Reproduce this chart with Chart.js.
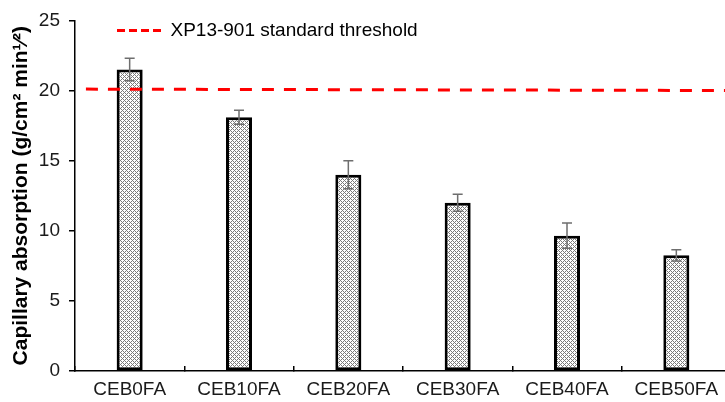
<!DOCTYPE html>
<html>
<head>
<meta charset="utf-8">
<script src="https://cdn.jsdelivr.net/npm/chart.js@4.4.1/dist/chart.umd.min.js"></script>
<style>
  html, body { margin: 0; padding: 0; background: #fff; overflow: hidden; }
  #wrap { width: 725px; height: 402px; overflow: hidden; }
</style>
</head>
<body>
<div id="wrap"><canvas id="absorptionChart" width="740" height="402"></canvas></div>
<script>
// capillary absorption per mix

const categories = ['CEB0FA', 'CEB10FA', 'CEB20FA', 'CEB30FA', 'CEB40FA', 'CEB50FA'];
const absorption = [21.5, 18.1, 14.0, 12.0, 9.65, 8.25];
const absorptionErr = [0.8, 0.5, 1.0, 0.6, 0.9, 0.4];

// threshold line runs across the whole plot (x in category units, 0..6)
const thresholdLabel = 'XP13-901 standard threshold';
const thresholdX = [0.1, 6.0];
const thresholdY = [20.1, 20.0];

const yTicks = [0, 5, 10, 15, 20, 25];

const FONT = '"Liberation Sans", Arial, sans-serif';

// Excel-like dotted diamond fill for the bars
function makeHatch() {
    const mask = [
        [1, 0, 0, 0],
        [0, 1, 0, 1],
        [0, 0, 1, 0],
        [0, 1, 0, 1],
    ];
    const tile = document.createElement('canvas');
    tile.width = 4;
    tile.height = 4;
    const tctx = tile.getContext('2d');
    tctx.fillStyle = '#ffffff';
    tctx.fillRect(0, 0, 4, 4);
    tctx.fillStyle = '#7a7a7a';
    mask.forEach((row, r) => row.forEach((on, c) => {
        if (on) tctx.fillRect(c, r, 1, 1);
    }));
    return document.getElementById('absorptionChart').getContext('2d').createPattern(tile, 'repeat');
}

// draws +/- error bars from the y scale
const errorBars = {
    id: 'errorBars',
    afterDatasetDraw(chart, args) {
        if (args.meta.type !== 'bar') return;
        const { ctx } = chart;
        const y = chart.scales.y;
        ctx.save();
        ctx.strokeStyle = '#6e6e6e';
        ctx.lineWidth = 1.5;
        args.meta.data.forEach((bar, i) => {
            const top = y.getPixelForValue(absorption[i] + absorptionErr[i]);
            const bottom = y.getPixelForValue(absorption[i] - absorptionErr[i]);
            const x = bar.x;
            ctx.beginPath();
            ctx.moveTo(x, top);
            ctx.lineTo(x, bottom);
            ctx.moveTo(x - 5, top);
            ctx.lineTo(x + 5, top);
            ctx.moveTo(x - 5, bottom);
            ctx.lineTo(x + 5, bottom);
            ctx.stroke();
        });
        ctx.restore();
    }
};

// legend sits inside the plot, nudged right and down
const legendOffset = {
    id: 'legendOffset',
    afterLayout(chart) {
        const lg = chart.legend;
        if (!lg) return;
        lg.left += 42;
        lg.right += 42;
        lg.top += 21;
        lg.bottom += 21;
    }
};

const ctx = document.getElementById('absorptionChart').getContext('2d');

new Chart(ctx, {
    type: 'bar',
    data: {
        labels: categories,
        datasets: [
            {
                label: 'Capillary absorption',
                data: absorption,
                backgroundColor: makeHatch(),
                borderColor: '#000000',
                borderWidth: 3,
                borderSkipped: false,
                grouped: false,
                categoryPercentage: 1,
                barPercentage: 0.238,
                order: 1,
            },
            {
                type: 'line',
                label: thresholdLabel,
                data: thresholdX.map((x, i) => ({ x, y: thresholdY[i] })),
                xAxisID: 'xt',
                borderColor: '#ff0000',
                backgroundColor: '#ff0000',
                borderWidth: 3,
                borderDash: [12, 10],
                pointRadius: 0,
                fill: false,
                order: 0,
            },
        ],
    },
    options: {
        responsive: false,
        animation: false,
        layout: {
            padding: { top: 20, right: 9, bottom: 0, left: 0 },
        },
        plugins: {
            tooltip: { enabled: false },
            legend: {
                position: 'chartArea',
                align: 'start',
                labels: {
                    padding: 0,
                    usePointStyle: true,
                    pointStyleWidth: 44,
                    color: '#000000',
                    font: { family: FONT, size: 19 },
                    generateLabels: () => [{
                        text: thresholdLabel,
                        fillStyle: '#ff0000',
                        strokeStyle: '#ff0000',
                        lineWidth: 3,
                        lineDash: [8, 4],
                        pointStyle: 'line',
                        hidden: false,
                        datasetIndex: 1,
                    }],
                },
            },
        },
        scales: {
            x: {
                type: 'category',
                offset: true,
                afterFit: (scale) => { scale.height = 31; },
                grid: {
                    offset: true,
                    drawOnChartArea: false,
                    drawTicks: true,
                    tickLength: -5,
                    color: '#000000',
                    lineWidth: 1.5,
                },
                border: { color: '#000000', width: 1.5 },
                ticks: {
                    color: '#1a1a1a',
                    padding: 12,
                    maxRotation: 0,
                    font: { family: FONT, size: 19 },
                },
            },
            xt: {
                type: 'linear',
                display: false,
                offset: false,
                min: 0,
                max: 6,
            },
            y: {
                min: 0,
                max: 25,
                afterFit: (scale) => { scale.width = 75; },
                afterBuildTicks: (scale) => {
                    scale.ticks = yTicks.map(v => ({ value: v }));
                },
                grid: {
                    drawOnChartArea: false,
                    drawTicks: true,
                    tickLength: 6,
                    color: '#000000',
                    lineWidth: 1.5,
                },
                border: { color: '#000000', width: 1.5 },
                ticks: {
                    color: '#1a1a1a',
                    padding: 9,
                    font: { family: FONT, size: 19 },
                },
                title: {
                    display: true,
                    text: 'Capillary absorption (g/cm² min¹⁄²)',
                    color: '#000000',
                    padding: { top: 9, bottom: 0 },
                    font: { family: FONT, size: 21, weight: 'bold' },
                },
            },
        },
    },
    plugins: [errorBars, legendOffset],
});
</script>
</body>
</html>
